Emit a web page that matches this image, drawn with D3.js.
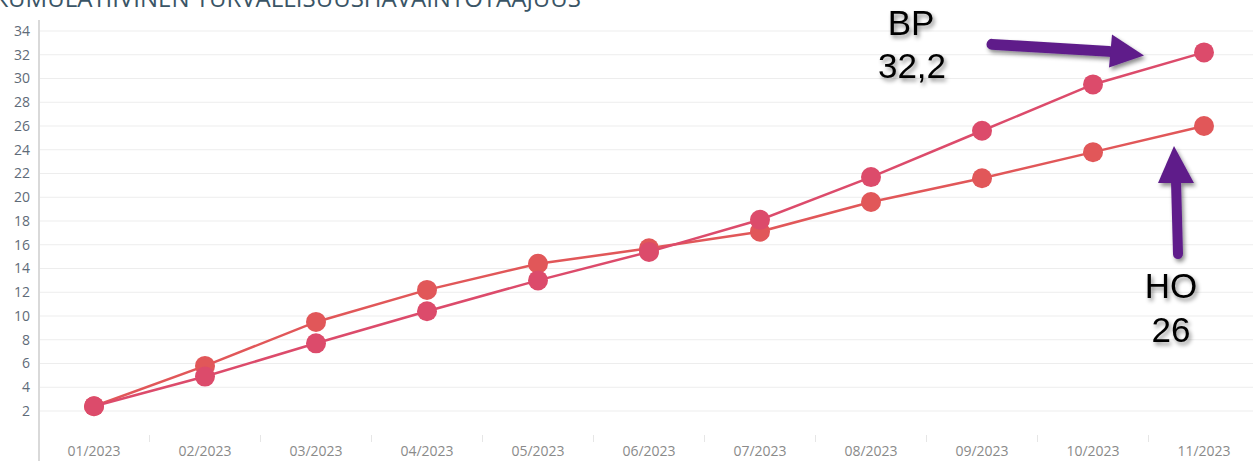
<!DOCTYPE html>
<html>
<head>
<meta charset="utf-8">
<script src="https://cdn.jsdelivr.net/npm/d3@7"></script>
<style>
  html, body { margin: 0; padding: 0; background: #fff; overflow: hidden; }
  svg { display: block; }
</style>
</head>
<body>
<svg id="chart" width="1253" height="461"></svg>
<script>
// data
const months = ["01/2023", "02/2023", "03/2023", "04/2023", "05/2023", "06/2023",
                "07/2023", "08/2023", "09/2023", "10/2023", "11/2023"];
const bpValues = [2.4, 4.9, 7.7, 10.4, 13.0, 15.4, 18.1, 21.7, 25.6, 29.5, 32.2];
const hoValues = [2.4, 5.8, 9.5, 12.2, 14.4, 15.7, 17.1, 19.6, 21.6, 23.8, 26.0];
const yTicks = [2, 4, 6, 8, 10, 12, 14, 16, 18, 20, 22, 24, 26, 28, 30, 32, 34];
const title = "KUMULATIIVINEN TURVALLISUUSHAVAINTOTAAJUUS";

const W = 1253, H = 461;
const svg = d3.select("#chart");

const x = d3.scaleBand()
    .domain(months)
    .range([38.5, 38.5 + 111 * months.length]);

const y = d3.scaleLinear()
    .domain([2, 34])
    .range([411, 31]);

// title, cut at the top edge like the original
svg.append("text")
    .attr("x", 581)
    .attr("y", 7)
    .attr("text-anchor", "end")
    .attr("font-family", "Open Sans, sans-serif")
    .attr("font-size", 24)
    .attr("fill", "#3a5566")
    .text(title);

// grid
svg.append("g")
    .selectAll("line")
    .data(yTicks)
    .enter()
    .append("line")
    .attr("x1", 40)
    .attr("x2", W)
    .attr("y1", d => y(d))
    .attr("y2", d => y(d))
    .attr("stroke", "#ededed")
    .attr("stroke-width", 1.2);

// y axis
const yAxis = d3.axisLeft(y).tickValues(yTicks).tickSize(0).tickPadding(0);
const gy = svg.append("g")
    .attr("transform", "translate(30,0)")
    .call(yAxis);
gy.select(".domain").remove();
gy.selectAll("text")
    .attr("font-family", "Open Sans, sans-serif")
    .attr("font-size", 14)
    .attr("fill", "#5f6b78");

svg.append("line")
    .attr("x1", 39).attr("x2", 39)
    .attr("y1", 20).attr("y2", H)
    .attr("stroke", "#d9d9d9")
    .attr("stroke-width", 2);

// x axis: labels plus small separators between bands
const xAxis = d3.axisBottom(x).tickSize(0).tickPadding(0);
const gx = svg.append("g")
    .attr("transform", "translate(0,446)")
    .call(xAxis);
gx.select(".domain").remove();
gx.selectAll("text")
    .attr("font-family", "Open Sans, sans-serif")
    .attr("font-size", 14)
    .attr("fill", "#8a8a8a");

svg.append("g")
    .selectAll("line")
    .data(months.slice(1))
    .enter()
    .append("line")
    .attr("x1", d => x(d))
    .attr("x2", d => x(d))
    .attr("y1", 435)
    .attr("y2", 442)
    .attr("stroke", "#e6e6e6")
    .attr("stroke-width", 1);

// series
const series = [
    { name: "HO", values: hoValues, color: "#e15759" },
    { name: "BP", values: bpValues, color: "#dc4b6b" }
];

const line = d3.line()
    .x((d, i) => x(months[i]) + x.bandwidth() / 2)
    .y(d => y(d));

series.forEach(s => {
    const g = svg.append("g");
    g.append("path")
        .datum(s.values)
        .attr("d", line)
        .attr("fill", "none")
        .attr("stroke", s.color)
        .attr("stroke-width", 2.5);
    g.selectAll("circle")
        .data(s.values)
        .enter()
        .append("circle")
        .attr("cx", (d, i) => x(months[i]) + x.bandwidth() / 2)
        .attr("cy", d => y(d))
        .attr("r", 10)
        .attr("fill", s.color);
});

// annotations
const defs = svg.append("defs");
const shadow = defs.append("filter")
    .attr("id", "shadow")
    .attr("x", "-30%").attr("y", "-30%")
    .attr("width", "160%").attr("height", "160%");
shadow.append("feDropShadow")
    .attr("dx", 2).attr("dy", 3)
    .attr("stdDeviation", 2)
    .attr("flood-color", "#000")
    .attr("flood-opacity", 0.45);

const lastX = x(months[months.length - 1]) + x.bandwidth() / 2;
const purple = "#5e1f8a";

const ann = svg.append("g").attr("filter", "url(#shadow)");

// BP arrow pointing right
ann.append("line")
    .attr("x1", lastX - 212).attr("y1", y(32.2) - 8)
    .attr("x2", lastX - 95).attr("y2", y(32.2) - 1)
    .attr("stroke", purple)
    .attr("stroke-width", 11)
    .attr("stroke-linecap", "round");
ann.append("path")
    .attr("d", `M${lastX - 92},${y(32.2) - 18} L${lastX - 60},${y(32.2) + 3} L${lastX - 95},${y(32.2) + 15} Z`)
    .attr("fill", purple);

// HO arrow pointing up
ann.append("line")
    .attr("x1", lastX - 26).attr("y1", y(26) + 128)
    .attr("x2", lastX - 28).attr("y2", y(26) + 55)
    .attr("stroke", purple)
    .attr("stroke-width", 10)
    .attr("stroke-linecap", "round");
ann.append("path")
    .attr("d", `M${lastX - 46},${y(26) + 57} L${lastX - 30},${y(26) + 20} L${lastX - 10},${y(26) + 57} Z`)
    .attr("fill", purple);

const labels = [
    { text: "BP", dx: -293, y: 35 },
    { text: "32,2", dx: -292, y: 78 },
    { text: "HO", dx: -33, y: 298 },
    { text: "26", dx: -33, y: 342 }
];
ann.selectAll("text")
    .data(labels)
    .enter()
    .append("text")
    .attr("x", d => lastX + d.dx)
    .attr("y", d => d.y)
    .attr("text-anchor", "middle")
    .attr("font-family", "Liberation Sans, Arial, sans-serif")
    .attr("font-size", 35)
    .attr("fill", "#000")
    .text(d => d.text);
</script>
</body>
</html>
